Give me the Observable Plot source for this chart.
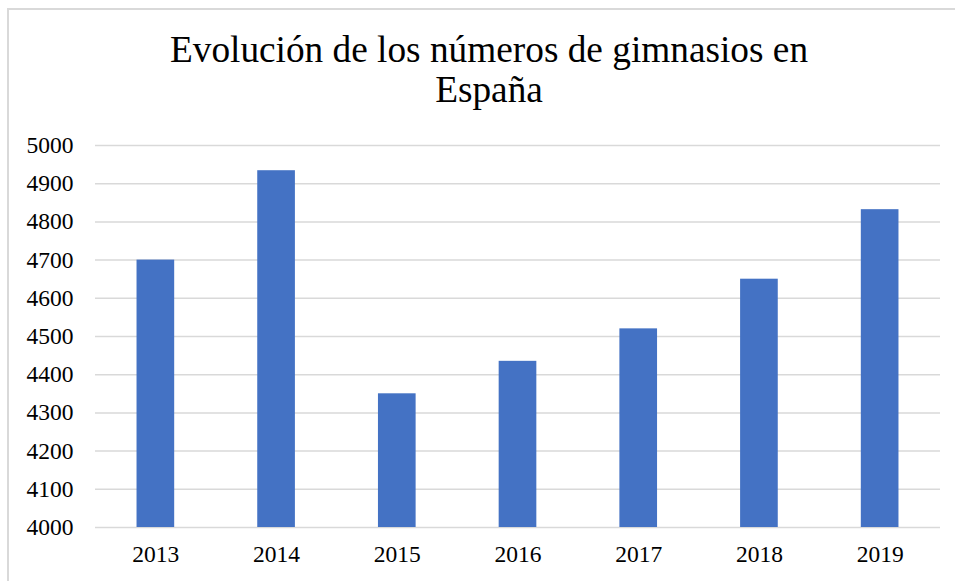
<!DOCTYPE html>
<html>
<head>
<meta charset="utf-8">
<script src="https://cdn.jsdelivr.net/npm/d3@7"></script>
<script src="https://cdn.jsdelivr.net/npm/@observablehq/plot@0.6"></script>
<style>
  html, body { margin: 0; padding: 0; background: #fff; width: 955px; height: 581px; overflow: hidden; }
  #frame { position: absolute; left: 7px; top: 8px; width: 1000px; height: 700px; border: 2px solid #d9d9d9; box-sizing: border-box; }
  #title { position: absolute; left: 0; top: 30px; width: 978px; text-align: center; font-family: 'Liberation Serif', 'Times New Roman', serif; font-size: 37.3px; line-height: 40px; color: #000; }
  #chart { position: absolute; left: 0; top: 120px; }
</style>
</head>
<body>
<div id="frame"></div>
<div id="title">Evolución de los números de gimnasios en<br>España</div>
<div id="chart"></div>
<script>
const years = ["2013", "2014", "2015", "2016", "2017", "2018", "2019"];
const gyms = [4700, 4934, 4350, 4435, 4520, 4650, 4832];
const yTicks = [4000, 4100, 4200, 4300, 4400, 4500, 4600, 4700, 4800, 4900, 5000];

const data = years.map((year, i) => ({year, value: gyms[i]}));

const chart = Plot.plot({
  width: 955,
  height: 461,
  marginLeft: 95,
  marginRight: 15,
  marginTop: 25,
  marginBottom: 54,
  x: {domain: years, paddingInner: 0.688, paddingOuter: 0.344, round: false, label: null, tickSize: 0, tickPadding: 18},
  y: {domain: [4000, 5000], ticks: yTicks, label: null, tickSize: 0, tickPadding: 22, tickFormat: d => String(d)},
  style: {fontFamily: "'Liberation Serif', 'Times New Roman', serif", fontSize: "23.5px", color: "#000", background: "transparent"},
  marks: [
    Plot.ruleY(yTicks, {stroke: "#d9d9d9", strokeWidth: 1.5}),
    Plot.barY(data, {x: "year", y1: 4000, y2: "value", fill: "#4472C4"})
  ]
});
document.getElementById("chart").appendChild(chart);
</script>
</body>
</html>
